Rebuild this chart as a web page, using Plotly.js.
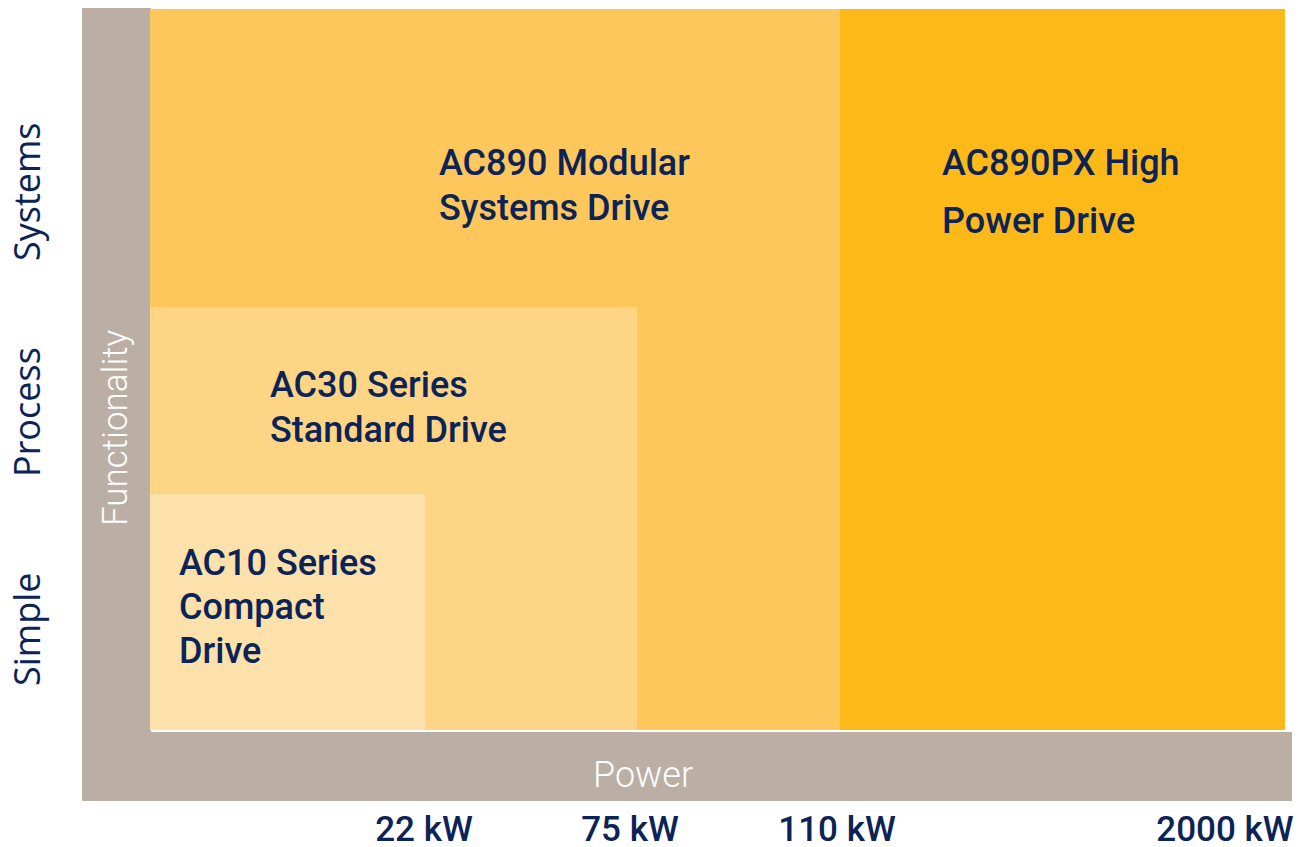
<!DOCTYPE html>
<html>
<head>
<meta charset="utf-8">
<script src="https://cdn.plot.ly/plotly-3.0.1.min.js"></script>
<style>html,body{margin:0;padding:0;background:#fff;}#chart{width:1302px;height:847px;}</style>
</head>
<body>
<div id="chart"></div>
<script>
// ---- data (axis units: 10 px per unit) ----
const products = ['AC10 Series Compact Drive', 'AC30 Series Standard Drive', 'AC890 Modular Systems Drive', 'AC890PX High Power Drive'];
const xStart = [6.8, 6.8, 6.8, 75.8];
const xEnd = [34.3, 55.5, 75.8, 120.3];
const yBottom = [7.1, 7.1, 7.1, 7.1];
const yTop = [30.7, 49.4, 79.2, 79.2];
const productColors = ['#FDE1AB', '#FDD584', '#FDC75B', '#FDB917'];
const drawOrder = [2, 3, 1, 0];

// label lines per product
const labelLines = [
  ['AC10 Series', 'Compact', 'Drive'],
  ['AC30 Series', 'Standard Drive'],
  ['AC890 Modular', 'Systems Drive'],
  ['AC890PX High', 'Power Drive']
];
const labelX = [9.5, 18.6, 35.5, 85.8];
const labelY = [
  [23.8, 19.4, 15.0],
  [41.6, 37.1],
  [63.8, 59.3],
  [63.8, 58.0]
];

const powerTicks = ['22 kW', '75 kW', '110 kW', '2000 kW'];
const powerTickPos = [34.2, 54.8, 75.5, 114.3];
const funcLevels = ['Simple', 'Process', 'Systems'];
const funcLevelPos = [17.1, 38.9, 60.9];

const frameColor = '#BBAFA5';
const navy = '#0B2357';

// ---- build ----
const shapes = [];
// L-shaped frame
shapes.push({type: 'rect', xref: 'x', yref: 'y', x0: 0, x1: 6.9, y0: 0, y1: 79.3, fillcolor: frameColor, line: {width: 0}, layer: 'below'});
shapes.push({type: 'rect', xref: 'x', yref: 'y', x0: 0, x1: 121, y0: 0, y1: 6.9, fillcolor: frameColor, line: {width: 0}, layer: 'below'});
drawOrder.forEach(i => {
  shapes.push({type: 'rect', xref: 'x', yref: 'y', x0: xStart[i], x1: xEnd[i], y0: yBottom[i], y1: yTop[i],
    fillcolor: productColors[i], line: {width: 0}, layer: 'below'});
});

const annotations = [];
labelLines.forEach((lines, i) => {
  lines.forEach((t, j) => {
    annotations.push({xref: 'x', yref: 'y', x: labelX[i], y: labelY[i][j], text: t, showarrow: false,
      xanchor: 'left', yanchor: 'middle', align: 'left',
      font: {family: 'Roboto', size: 36, color: navy, weight: 500}});
  });
});
funcLevels.forEach((t, i) => {
  annotations.push({xref: 'paper', yref: 'y', x: -56 / 1210, y: funcLevelPos[i], text: t, showarrow: false, textangle: -90,
    xanchor: 'center', yanchor: 'middle', font: {family: 'Open Sans', size: 36, color: navy, weight: 500}});
});
annotations.push({xref: 'x', yref: 'y', x: 3.3, y: 37.3, text: 'Functionality', showarrow: false, textangle: -90,
  xanchor: 'center', yanchor: 'middle', font: {family: 'Roboto', size: 35, color: '#ffffff', weight: 300}});
annotations.push({xref: 'x', yref: 'y', x: 56.1, y: 2.6, text: 'Power', showarrow: false,
  xanchor: 'center', yanchor: 'middle', font: {family: 'Roboto', size: 36, color: '#ffffff', weight: 300}});

const layout = {
  width: 1302, height: 847,
  margin: {l: 82, r: 10, t: 8, b: 46},
  paper_bgcolor: '#ffffff', plot_bgcolor: '#ffffff',
  showlegend: false,
  xaxis: {range: [0, 121], tickvals: powerTickPos, ticktext: powerTicks, showgrid: false, zeroline: false,
    showline: false, ticks: '', ticklabelstandoff: 4, tickfont: {family: 'Roboto', size: 35, color: navy, weight: 500}, fixedrange: true},
  yaxis: {range: [0, 79.3], showticklabels: false, showgrid: false, zeroline: false, showline: false, ticks: '', fixedrange: true},
  shapes: shapes,
  annotations: annotations
};

Plotly.newPlot('chart', [{x: [0], y: [0], mode: 'markers', marker: {opacity: 0}, hoverinfo: 'skip'}], layout, {displayModeBar: false, staticPlot: true});
</script>
</body>
</html>
